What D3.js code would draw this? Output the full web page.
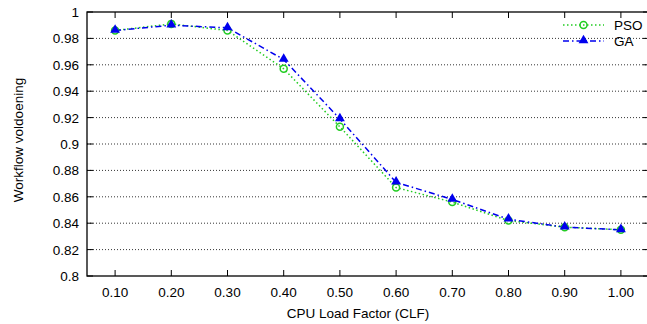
<!DOCTYPE html>
<html lang="en">
<head>
<meta charset="UTF-8">
<title>Workflow voldoening</title>
<script src="https://cdn.jsdelivr.net/npm/d3@7"></script>
<style>
  body { margin: 0; background: #fff; }
  text { font-family: "Liberation Sans", Arial, sans-serif; }
</style>
</head>
<body>
<div id="container"></div>
<script>
// data
let clf = [0.10, 0.20, 0.30, 0.40, 0.50, 0.60, 0.70, 0.80, 0.90, 1.00];
let pso = [0.986, 0.991, 0.986, 0.957, 0.913, 0.867, 0.856, 0.842, 0.837, 0.835];
let ga  = [0.986, 0.990, 0.988, 0.964, 0.919, 0.871, 0.858, 0.843, 0.837, 0.835];
let yTicks = [0.8, 0.82, 0.84, 0.86, 0.88, 0.9, 0.92, 0.94, 0.96, 0.98, 1];

let W = 647, H = 324;
let pLeft = 87, pRight = 649, pTop = 12, pBottom = 276;
let fs = 13.5;

let svg = d3.select('#container').append('svg')
    .attr('width', W).attr('height', H);

let x = d3.scaleLinear().domain([0.05, 1.05]).range([pLeft, pRight]);
let y = d3.scaleLinear().domain([0.8, 1]).range([pBottom, pTop]);

// grid
svg.append('g').selectAll('line')
    .data(yTicks.filter(d => d > 0.8 && d < 1))
    .join('line')
    .attr('x1', pLeft).attr('x2', pRight)
    .attr('y1', d => y(d)).attr('y2', d => y(d))
    .attr('stroke', '#000').attr('stroke-width', 0.8)
    .attr('stroke-dasharray', '1,2');

// ticks on all four sides, pointing inward
let tl = 6;
let g = svg.append('g').attr('stroke', '#000').attr('stroke-width', 1);
clf.forEach(v => {
    g.append('line').attr('x1', x(v)).attr('x2', x(v)).attr('y1', pBottom).attr('y2', pBottom - tl);
    g.append('line').attr('x1', x(v)).attr('x2', x(v)).attr('y1', pTop).attr('y2', pTop + tl);
});
yTicks.forEach(v => {
    g.append('line').attr('x1', pLeft).attr('x2', pLeft + tl).attr('y1', y(v)).attr('y2', y(v));
    g.append('line').attr('x1', pRight).attr('x2', pRight - tl).attr('y1', y(v)).attr('y2', y(v));
});

// frame
svg.append('rect')
    .attr('x', pLeft).attr('y', pTop)
    .attr('width', pRight - pLeft).attr('height', pBottom - pTop)
    .attr('fill', 'none').attr('stroke', '#000').attr('stroke-width', 1.3);

// tick labels
svg.append('g').selectAll('text')
    .data(yTicks).join('text')
    .attr('x', pLeft - 8).attr('y', d => y(d) + 5)
    .attr('text-anchor', 'end').attr('font-size', fs)
    .text(d => String(+d.toFixed(2)));

svg.append('g').selectAll('text')
    .data(clf).join('text')
    .attr('x', d => x(d)).attr('y', pBottom + 21)
    .attr('text-anchor', 'middle').attr('font-size', fs)
    .text(d => d.toFixed(2));

// axis titles
svg.append('text')
    .attr('x', (pLeft + pRight) / 2 - 10).attr('y', 318)
    .attr('text-anchor', 'middle').attr('font-size', fs)
    .text('CPU Load Factor (CLF)');

svg.append('text')
    .attr('transform', 'translate(23,140) rotate(-90)')
    .attr('text-anchor', 'middle').attr('font-size', fs)
    .text('Workflow voldoening');

// series
let pts = vals => clf.map((c, i) => [c, vals[i]]);
let line = d3.line().x(d => x(d[0])).y(d => y(d[1]));

svg.append('path')
    .datum(pts(pso))
    .attr('d', line)
    .attr('fill', 'none').attr('stroke', '#22cc22').attr('stroke-width', 1.5)
    .attr('stroke-dasharray', '1.5,2.5');

svg.append('path')
    .datum(pts(ga))
    .attr('d', line)
    .attr('fill', 'none').attr('stroke', '#0000ee').attr('stroke-width', 1.5)
    .attr('stroke-dasharray', '6,3,1.5,3');

let tri = d3.symbol().type(d3.symbolTriangle).size(42);

svg.append('g').selectAll('circle')
    .data(pts(pso)).join('circle')
    .attr('cx', d => x(d[0])).attr('cy', d => y(d[1])).attr('r', 3.5)
    .attr('fill', 'none').attr('stroke', '#22cc22').attr('stroke-width', 1.5);

svg.append('g').selectAll('path')
    .data(pts(ga)).join('path')
    .attr('d', tri)
    .attr('transform', d => 'translate(' + x(d[0]) + ',' + (y(d[1]) - 0.5) + ')')
    .attr('fill', '#0000ee');

// legend
let lx1 = 563, lx2 = 604, ly1 = 25, ly2 = 41;
svg.append('line').attr('x1', lx1).attr('x2', lx2).attr('y1', ly1).attr('y2', ly1)
    .attr('stroke', '#22cc22').attr('stroke-width', 1.5).attr('stroke-dasharray', '1.5,2.5');
svg.append('circle').attr('cx', (lx1 + lx2) / 2).attr('cy', ly1).attr('r', 3.5)
    .attr('fill', 'none').attr('stroke', '#22cc22').attr('stroke-width', 1.5);
svg.append('text').attr('x', 614).attr('y', ly1 + 5).attr('font-size', fs).text('PSO');

svg.append('line').attr('x1', lx1).attr('x2', lx2).attr('y1', ly2).attr('y2', ly2)
    .attr('stroke', '#0000ee').attr('stroke-width', 1.5).attr('stroke-dasharray', '6,3,1.5,3');
svg.append('path').attr('d', tri)
    .attr('transform', 'translate(' + ((lx1 + lx2) / 2) + ',' + (ly2 - 0.5) + ')')
    .attr('fill', '#0000ee');
svg.append('text').attr('x', 614).attr('y', ly2 + 5).attr('font-size', fs).text('GA');
</script>
</body>
</html>
